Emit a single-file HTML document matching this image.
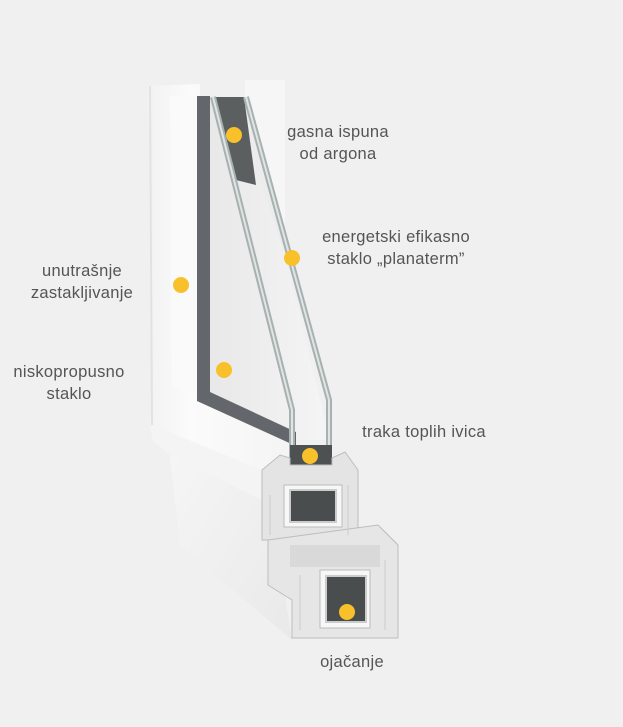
<!DOCTYPE html>
<html><head><meta charset="utf-8"><style>
html,body{margin:0;padding:0;background:#f0f0f0;}
body{width:623px;height:727px;overflow:hidden;position:relative;font-family:"Liberation Sans",sans-serif;}
.t{position:absolute;color:#555;font-size:16.5px;line-height:22px;text-align:center;white-space:nowrap;letter-spacing:0.3px}
</style></head><body>
<svg width="623" height="727" style="position:absolute;left:0;top:0">
<defs>
<linearGradient id="fr" x1="0" x2="1"><stop offset="0" stop-color="#f2f2f2"/><stop offset="0.3" stop-color="#fbfbfb"/><stop offset="1" stop-color="#f4f4f4"/></linearGradient>
<linearGradient id="gl" x1="0" x2="1"><stop offset="0" stop-color="#e8e8e8"/><stop offset="1" stop-color="#f5f5f5"/></linearGradient>
<linearGradient id="ex" x1="0" y1="0" x2="1" y2="1"><stop offset="0" stop-color="#f6f6f6"/><stop offset="1" stop-color="#e9e9e9"/></linearGradient>
</defs>
<polygon points="168,440 265,470 292,640 180,545" fill="url(#ex)"/>
<polygon points="150,415 262,470 262,500 170,455 152,440" fill="#f4f4f4"/>
<polygon points="148,86 200,84 200,398 290,440 290,462 262,470 152,425" fill="url(#fr)"/>
<line x1="150" y1="86" x2="152" y2="425" stroke="#e2e2e2" stroke-width="2"/>
<polygon points="170,96 198,96 198,398 172,385" fill="#fafafa"/>
<polygon points="245,80 285,80 285,250 300,300 245,97" fill="#f6f6f6"/>
<polygon points="208,97 245,97 330,440 290,440 208,400" fill="url(#gl)"/>
<polygon points="214,97 245,97 300,300 232,97" fill="#ececec"/>
<polygon points="214,97 244,97 256,185 236,180" fill="#5c5f60"/>
<polygon points="197,96 210,96 210,392 296,432 296,446 197,401" fill="#63666a"/>
<polyline points="213,97 292,410 292,462" fill="none" stroke="#a8b0b0" stroke-width="6"/>
<polyline points="213,97 292,410 292,462" fill="none" stroke="#dfe5e5" stroke-width="2"/>
<polyline points="246,97 329,400 329,462" fill="none" stroke="#a8b0b0" stroke-width="6"/>
<polyline points="246,97 329,400 329,462" fill="none" stroke="#dfe5e5" stroke-width="2"/>
<rect x="290" y="445" width="42" height="20" fill="#4e5152"/>
<path d="M262,470 L280,455 L290,458 L290,465 L332,465 L332,458 L345,452 L358,470 L358,540 L262,540 Z" fill="#e4e4e4" stroke="#bdbdbd"/>
<rect x="284" y="485" width="58" height="42" fill="#f7f7f7" stroke="#bbb"/>
<rect x="290" y="490" width="46" height="32" fill="#4a4d4e" stroke="#ccc" stroke-width="2"/>
<path d="M268,540 L378,525 L398,545 L398,638 L292,638 L292,600 L268,585 Z" fill="#e6e6e6" stroke="#bdbdbd"/>
<rect x="290" y="545" width="90" height="22" fill="#d9d9d9"/>
<rect x="320" y="570" width="50" height="58" fill="#f7f7f7" stroke="#bbb"/>
<rect x="326" y="576" width="40" height="46" fill="#4a4d4e" stroke="#ccc" stroke-width="2"/>
<line x1="300" y1="575" x2="300" y2="630" stroke="#ccc"/>
<line x1="385" y1="560" x2="385" y2="630" stroke="#ccc"/>
<line x1="270" y1="495" x2="270" y2="535" stroke="#ccc"/>
<line x1="348" y1="485" x2="348" y2="535" stroke="#ccc"/>
<g fill="#f8c12b">
<circle cx="234" cy="135" r="8"/><circle cx="292" cy="258" r="8"/><circle cx="181" cy="285" r="8"/>
<circle cx="224" cy="370" r="8"/><circle cx="310" cy="456" r="8"/><circle cx="347" cy="612" r="8"/>
</g>
</svg>
<div class="t" style="left:280px;top:121px;width:116px">gasna ispuna<br>od argona</div>
<div class="t" style="left:310px;top:226px;width:172px">energetski efikasno<br>staklo „planaterm”</div>
<div class="t" style="left:22px;top:260px;width:120px">unutrašnje<br>zastakljivanje</div>
<div class="t" style="left:0px;top:361px;width:138px">niskopropusno<br>staklo</div>
<div class="t" style="left:352px;top:421px;width:144px">traka toplih ivica</div>
<div class="t" style="left:312px;top:651px;width:80px">ojačanje</div>
</body></html>
